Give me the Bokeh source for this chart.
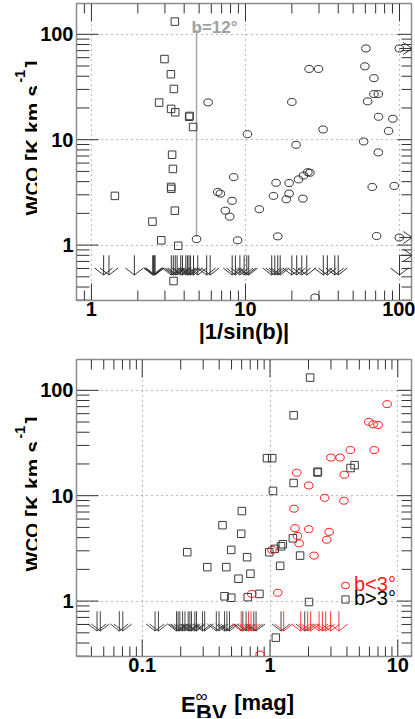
import numpy as np
from bokeh.plotting import figure
from bokeh.models import Range1d, CustomJSTickFormatter, Label, Legend, LegendItem
from bokeh.core.properties import value
from bokeh.layouts import column, row
from bokeh.embed import file_html
from bokeh.resources import INLINE

FONT = "Liberation Sans"

# ---------------- Panel 1 : W_CO versus |1/sin(b)| ----------------
p1_sq_x = [3.48, 2.98, 3.28, 3.43, 2.75, 3.29, 3.50, 4.31, 4.34, 4.57, 3.34, 3.38,
           3.29, 3.30, 1.42, 3.48, 2.49, 2.84, 3.66, 3.41]
p1_sq_y = [132, 58.2, 41.8, 30.3, 22.5, 19.6, 18.2, 16.5, 16.8, 13.2, 7.2, 5.28,
           3.56, 3.42, 2.93, 2.12, 1.67, 1.11, 0.985, 0.456]
p1_ci_x = [5.72, 60.5, 99.6, 25.9, 29.8, 59.6, 68.2, 68.2, 72.8, 20.0, 62.1, 73.1,
           90.5, 31.9, 84.9, 10.3, 21.3, 58.5, 72.8, 8.39, 25.4, 26.2, 23.8, 22.1,
           6.61, 6.87, 8.18, 7.40, 7.90, 8.9, 12.3, 15.8, 15.2, 19.2, 19.2, 18.4,
           23.6, 16.2, 66.5, 92.4, 71.0, 99.6, 28.3, 4.81]
p1_ci_y = [22.6, 73.4, 73.4, 46.9, 46.9, 49.7, 38.4, 27.1, 27.1, 22.8, 23.1, 16.5,
           15.8, 12.5, 12.1, 11.3, 8.94, 9.62, 7.58, 4.42, 4.92, 4.85, 4.57, 4.2,
           3.19, 3.08, 2.63, 2.12, 1.86, 1.11, 2.19, 3.90, 2.93, 3.88, 3.08, 2.72,
           2.76, 1.21, 3.56, 3.64, 1.22, 1.18, 0.318, 1.14]
# upper limits in W_CO
p1_ul_x = [1.2, 1.3, 1.9, 2.50, 2.53, 2.56, 2.59, 3.3, 3.4, 3.5, 3.6, 3.8, 3.9,
           4.1, 4.2, 4.3, 4.4, 4.6, 4.9, 5.6, 5.9, 8.2, 8.6, 9.2, 9.8, 10.2, 10.5,
           14.8, 15.5, 16.2, 16.8, 20, 21.5, 23.2, 25, 32, 34, 38, 40, 100]
# lower limits in |1/sin(b)| (b ~ 0)
p1_xl_x = [99.6, 99.6, 100]
p1_xl_y = [73.4, 1.18, 0.80]
b_cut_deg = 12

p1_xticks = [1, 10, 100]
p1_xlabels = ["1", "10", "100"]

# ---------------- Panel 2 : W_CO versus E_BV ----------------
p2_sq_x = [2.06, 1.53, 0.947, 1.04, 4.27, 4.59, 2.35, 2.37, 1.53, 1.055, 0.602, 0.425,
           0.595, 1.51, 1.26, 1.22, 1.09, 0.987, 1.72, 1.20, 0.497, 0.662, 0.323, 0.455,
           0.703, 0.567, 0.441, 0.497, 0.67, 0.826, 2.02, 1.11, 0.225]
p2_sq_y = [132, 57.9, 22.7, 22.7, 18.3, 19.5, 16.6, 16.9, 13.2, 11.1, 7.15, 5.25,
           4.35, 3.94, 3.46, 3.31, 3.13, 2.91, 2.70, 2.16, 3.06, 2.61, 2.10, 2.10,
           1.82, 1.63, 1.11, 1.076, 1.09, 1.17, 0.98, 0.45, 2.91]
p2_ci_x = [8.24, 5.93, 6.41, 7.01, 4.25, 6.53, 3.00, 3.53, 1.62, 3.81, 2.01, 2.68,
           3.79, 1.54, 1.57, 2.01, 2.90, 1.64, 1.69, 2.78, 1.036, 2.21, 0.72, 1.15, 0.836]
p2_ci_y = [73.9, 50.1, 47.6, 46.9, 27.1, 27.1, 23.0, 23.0, 16.5, 15.8, 12.5, 9.55,
           8.96, 7.53, 4.92, 4.81, 4.54, 4.15, 3.53, 3.82, 3.06, 2.70, 1.17, 1.20, 0.311]
p2_ul_sq = [0.0443, 0.047, 0.0662, 0.0705, 0.126, 0.134, 0.1855, 0.191, 0.197, 0.207,
            0.216, 0.229, 0.236, 0.243, 0.258, 0.266, 0.296, 0.308, 0.38, 0.399, 0.441,
            0.46, 0.482, 0.613, 0.65, 0.747, 0.778, 1.22, 1.87]
p2_ul_ci = [0.595, 0.678, 0.711, 1.28, 1.74, 1.97, 2.08, 2.42, 2.57, 2.73, 2.98, 3.46]

p2_xticks = [0.1, 1, 10]
p2_xlabels = ["0.1", "1", "10"]

yticks = [1, 10, 100]
ylabels = ["1", "10", "100"]

legend_labels = ["b<3°", "b>3°"]

# ---------------- layout / style constants ----------------
YLW = 37            # width of the y-title strip
BL, BR = 38, 4      # plot borders
FW = 336
PW = BL + FW + BR   # 378 -> total width 415
FH = 297
T1, B1 = 3, 55
T2, B2 = 4, 24
H1 = T1 + FH + B1
H2 = T2 + FH + B2
XLH = 718 - H1 - H2
X1R = (0.80, 119.6)
X2R = (0.0306, 12.8)
YR = (0.298, 196)
UL_TOP, UL_TIP = 0.80, 0.52
GRAY = "#8c8c8c"
INK = "#333333"
RED = "#ff1a1a"


def no_frame_align(f):
    try:
        f.frame_align = False
    except Exception:
        pass


def pxf(rng, npx, dpx):
    dec = np.log10(rng[1]) - np.log10(rng[0])
    return 10 ** (dpx * dec / npx)


def fmt(tv, tl):
    return CustomJSTickFormatter(args=dict(tv=tv, tl=tl), code="""
        for (let i = 0; i < tv.length; i++) {
            if (Math.abs(Math.log10(tv[i]) - Math.log10(tick)) < 1e-6) return tl[i];
        }
        return "";
    """)


def log_ticks(rng):
    lo = int(np.floor(np.log10(rng[0])))
    hi = int(np.ceil(np.log10(rng[1])))
    major = [10.0 ** e for e in range(lo, hi + 1) if rng[0] <= 10.0 ** e <= rng[1]]
    minor = [m * 10.0 ** e for e in range(lo, hi + 1) for m in range(2, 10)
             if rng[0] <= m * 10.0 ** e <= rng[1]]
    return major, minor


def draw_ticks(p, xr):
    xM, xm = log_ticks(xr)
    yM, ym = log_ticks(YR)
    specs = [
        (xM, 17, "x", YR[0], np.pi / 2), (xm, 10, "x", YR[0], np.pi / 2),
        (xM, 18, "x", YR[1], -np.pi / 2), (xm, 10, "x", YR[1], -np.pi / 2),
        (yM, 22, "y", xr[0], 0.0), (ym, 13, "y", xr[0], 0.0),
        (yM, 14, "y", xr[1], np.pi), (ym, 10, "y", xr[1], np.pi),
    ]
    for vals, length, ax, edge, ang in specs:
        if ax == "x":
            xs, ys = vals, [edge] * len(vals)
        else:
            xs, ys = [edge] * len(vals), vals
        p.ray(x=xs, y=ys, length=length, length_units="screen", angle=ang,
              line_color=INK, line_width=1)


def make_fig(xr, top, bottom, xt, xl):
    p = figure(width=PW, height=top + FH + bottom, x_axis_type="log", y_axis_type="log",
               x_range=Range1d(*xr), y_range=Range1d(*YR),
               output_backend="svg", toolbar_location=None, min_border=0,
               min_border_left=BL, min_border_right=BR, min_border_top=top,
               min_border_bottom=bottom)
    no_frame_align(p)
    p.outline_line_color = GRAY
    p.outline_line_width = 1.5
    for ax, fm in ((p.xaxis[0], fmt(xt, xl)), (p.yaxis[0], fmt(yticks, ylabels))):
        ax.formatter = fm
        ax.axis_line_color = GRAY
        ax.major_tick_in = 0
        ax.major_tick_out = 0
        ax.minor_tick_in = 0
        ax.minor_tick_out = 0
        ax.major_tick_line_color = None
        ax.minor_tick_line_color = None
        ax.major_label_text_font = FONT
        ax.major_label_text_font_size = "20px"
        ax.major_label_text_font_style = "bold"
        ax.major_label_text_color = "black"
    p.xaxis[0].major_label_standoff = 1
    p.yaxis[0].major_label_standoff = 3
    for g in (p.xgrid[0], p.ygrid[0]):
        g.grid_line_color = "#777777"
        g.grid_line_dash = "1 4"
        g.grid_line_width = 1
    draw_ticks(p, xr)
    return p


def strip(width, height, top=0, bottom=0):
    s = figure(width=width, height=height, x_range=Range1d(0, width),
               y_range=Range1d(0, height - top - bottom), output_backend="svg",
               toolbar_location=None, x_axis_location=None, y_axis_location=None,
               min_border=0, min_border_left=0, min_border_right=0,
               min_border_top=top, min_border_bottom=bottom)
    no_frame_align(s)
    s.outline_line_color = None
    s.xgrid.visible = False
    s.ygrid.visible = False
    return s


def txt(s, x, y, text, size, style="bold", color="black", angle=0.0):
    s.text(x=[x], y=[y], text=[text], angle=angle, text_font=value(FONT),
           text_font_size=value(f"{size}px"), text_font_style=style,
           text_color=color, text_align="left", text_baseline="alphabetic")


def ytitle(top, bottom):
    # strip shares the plot's vertical borders, so y=0 is the frame bottom
    s = strip(YLW, top + FH + bottom, top, bottom)
    a = np.pi / 2
    base = 32
    txt(s, base, 85, "W", 21, angle=a)
    txt(s, base, 105, "CO", 19, angle=a)
    txt(s, base, 139.5, "[K km s", 21, angle=a)
    txt(s, base - 13, 218, "-1", 14, angle=a)
    txt(s, base, 233, "]", 21, angle=a)
    return s


def down_arrows(p, xs, xr, color, alpha=1.0):
    kx = pxf(xr, FW, 9)
    ky = pxf(YR, FH, 7)
    xs_l, ys_l = [], []
    for x in xs:
        xs_l.append([x, x]); ys_l.append([UL_TOP, UL_TIP])
        xs_l.append([x / kx, x, x * kx]); ys_l.append([UL_TIP * ky, UL_TIP, UL_TIP * ky])
    p.multi_line(xs_l, ys_l, line_color=color, line_width=1, line_alpha=alpha)


def right_arrows(p, xs, ys, xr, color):
    L = pxf(xr, FW, 13)
    kx = pxf(xr, FW, 9)
    ky = pxf(YR, FH, 6)
    xs_l, ys_l = [], []
    for x, y in zip(xs, ys):
        tip = x * L
        xs_l.append([x, tip]); ys_l.append([y, y])
        xs_l.append([tip / kx, tip, tip / kx]); ys_l.append([y * ky, y, y / ky])
    p.multi_line(xs_l, ys_l, line_color=color, line_width=1)


# ---------------- figure 1 ----------------
p1 = make_fig(X1R, T1, B1, p1_xticks, p1_xlabels)
p1.xaxis[0].axis_label = "|1/sin(b)|"
p1.xaxis[0].axis_label_text_font = FONT
p1.xaxis[0].axis_label_text_font_size = "22px"
p1.xaxis[0].axis_label_text_font_style = "bold"
p1.xaxis[0].axis_label_text_color = "black"
p1.xaxis[0].axis_label_standoff = 0
xb = 1.0 / np.sin(np.radians(b_cut_deg))
p1.segment(x0=[xb], y0=[1.2], x1=[xb], y1=[110], line_color="#a8a8a8", line_width=1.5)
p1.add_layout(Label(x=xb, y=115, x_offset=-5, text=f"b={b_cut_deg}°",
                    text_font=FONT, text_font_size="17px", text_font_style="bold",
                    text_color="#a0a0a0", text_baseline="alphabetic"))
p1.scatter(p1_sq_x, p1_sq_y, marker="square", size=7.5, fill_color=None,
           line_color="#3a3a3a", line_width=1)
p1.ellipse(p1_ci_x, p1_ci_y, width=8.5, height=7, width_units="screen",
           height_units="screen", fill_color=None, line_color=INK, line_width=1)
down_arrows(p1, p1_ul_x, X1R, INK)
right_arrows(p1, p1_xl_x, p1_xl_y, X1R, INK)

# ---------------- figure 2 ----------------
p2 = make_fig(X2R, T2, B2, p2_xticks, p2_xlabels)
down_arrows(p2, p2_ul_sq, X2R, INK, 0.9)
down_arrows(p2, p2_ul_ci, X2R, RED, 0.85)
r_sq = p2.scatter(p2_sq_x, p2_sq_y, marker="square", size=7.5, fill_color=None,
                  line_color="#3a3a3a", line_width=1)
r_ci = p2.ellipse(p2_ci_x, p2_ci_y, width=8.5, height=7, width_units="screen",
                  height_units="screen", fill_color=None, line_color=RED, line_width=1)

for item_r, text, color, loc, gw, stand in ((r_ci, legend_labels[0], RED, (264, 60), 10, 4),
                                            (r_sq, legend_labels[1], "black", (260, 46), 18, 0)):
    lg = Legend(items=[LegendItem(label=text, renderers=[item_r])], location=loc,
                border_line_color=None, background_fill_alpha=0, padding=0, margin=0,
                spacing=0, glyph_width=gw, glyph_height=22, label_height=22,
                label_standoff=stand, label_text_font=FONT, label_text_font_size="20px",
                label_text_color=color, label_text_baseline="middle")
    p2.add_layout(lg)

# x title of panel 2 (E^inf_BV [mag]); strip y measured up from its bottom
xl2 = strip(YLW + PW, XLH)
txt(xl2, 180.5, 14, "E", 22)
txt(xl2, 195, 22.5, "∞", 17, style="normal")
txt(xl2, 195.5, 6.5, "BV", 22)
txt(xl2, 233.7, 16, "[mag]", 22)

layout = column(row(ytitle(T1, B1), p1), row(ytitle(T2, B2), p2), xl2)
open("out.html", "w").write(file_html(layout, INLINE))
